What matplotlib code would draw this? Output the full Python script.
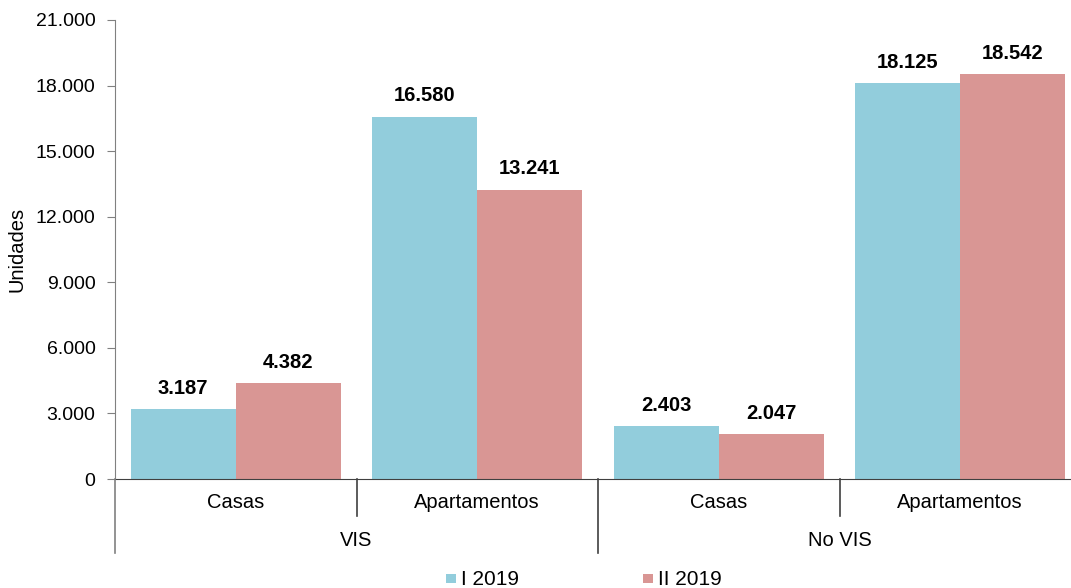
import matplotlib
matplotlib.use("Agg")
import matplotlib.pyplot as plt
from matplotlib.patches import Rectangle
from matplotlib.lines import Line2D
from matplotlib.ticker import FuncFormatter
import matplotlib.transforms as mtrans

plt.rcParams['font.family'] = ['Liberation Sans', 'DejaVu Sans']

subcats = ["Casas", "Apartamentos", "Casas", "Apartamentos"]
groups = ["VIS", "No VIS"]
series_names = ["I 2019", "II 2019"]
s1 = [3187, 16580, 2403, 18125]
s2 = [4382, 13241, 2047, 18542]
colors = ["#92CDDC", "#D99694"]

W, H = 1071, 588
fig = plt.figure(figsize=(W / 100, H / 100), dpi=100)
x0, x1 = 115, 1081
y0, y1 = 479, 20
ax = fig.add_axes([x0 / W, (H - y0) / H, (x1 - x0) / W, (y0 - y1) / H])

xs = list(range(len(subcats)))
bw = 0.435
b1 = ax.bar([x - bw / 2 for x in xs], s1, bw, color=colors[0])
b2 = ax.bar([x + bw / 2 for x in xs], s2, bw, color=colors[1])

def fmt(v):
    return f"{v:,.0f}".replace(",", ".")

for bars, vals in ((b1, s1), (b2, s2)):
    for b, v in zip(bars, vals):
        ax.annotate(fmt(v), (b.get_x() + b.get_width() / 2, v), xytext=(0, 8),
                    textcoords="offset points", ha="center", va="bottom",
                    fontsize=14.5, fontweight="bold")

ax.set_xlim(-0.5, len(subcats) - 0.5)
ax.set_ylim(0, 21000)
ax.set_yticks(range(0, 21001, 3000))
ax.yaxis.set_major_formatter(FuncFormatter(lambda v, p: fmt(v)))
ax.tick_params(axis='y', labelsize=14, length=6, color="#808080", direction="out", pad=8)
ax.set_xticks([])
for s in ("top", "right"):
    ax.spines[s].set_visible(False)
ax.spines["left"].set_color("#808080")
ax.spines["bottom"].set_color("#404040")
ax.spines["left"].set_bounds(0, 21000)
ax.set_ylabel("Unidades", fontsize=14.5)
ax.yaxis.set_label_coords(-88 / (x1 - x0), 0.5)

def fy(py):
    return (H - py) / H

btr = mtrans.blended_transform_factory(ax.transData, fig.transFigure)
for i, c in enumerate(subcats):
    fig.text(i, fy(503), c, transform=btr, fontsize=14.5, ha="center", va="center")
for gi, g in enumerate(groups):
    fig.text(gi * 2 + 0.5, fy(540), g, transform=btr, fontsize=14.5, ha="center", va="center")

for xv, long in ((-0.5, True), (0.5, False), (1.5, True), (2.5, False)):
    bot = 553 if long else 516
    fig.add_artist(Line2D([xv, xv], [fy(479), fy(bot)], transform=btr,
                          color="#404040" if xv > -0.5 else "#808080", lw=1.2))

# legend
leg_x = [446, 643]
for lx, name, col in zip(leg_x, series_names, colors):
    fig.add_artist(Rectangle((lx / W, fy(583)), 10 / W, 9 / H, transform=fig.transFigure,
                             color=col, lw=0))
    fig.text((lx + 15) / W, fy(585), name, fontsize=15, ha="left", va="baseline")

fig.savefig("out.png", dpi=100)
